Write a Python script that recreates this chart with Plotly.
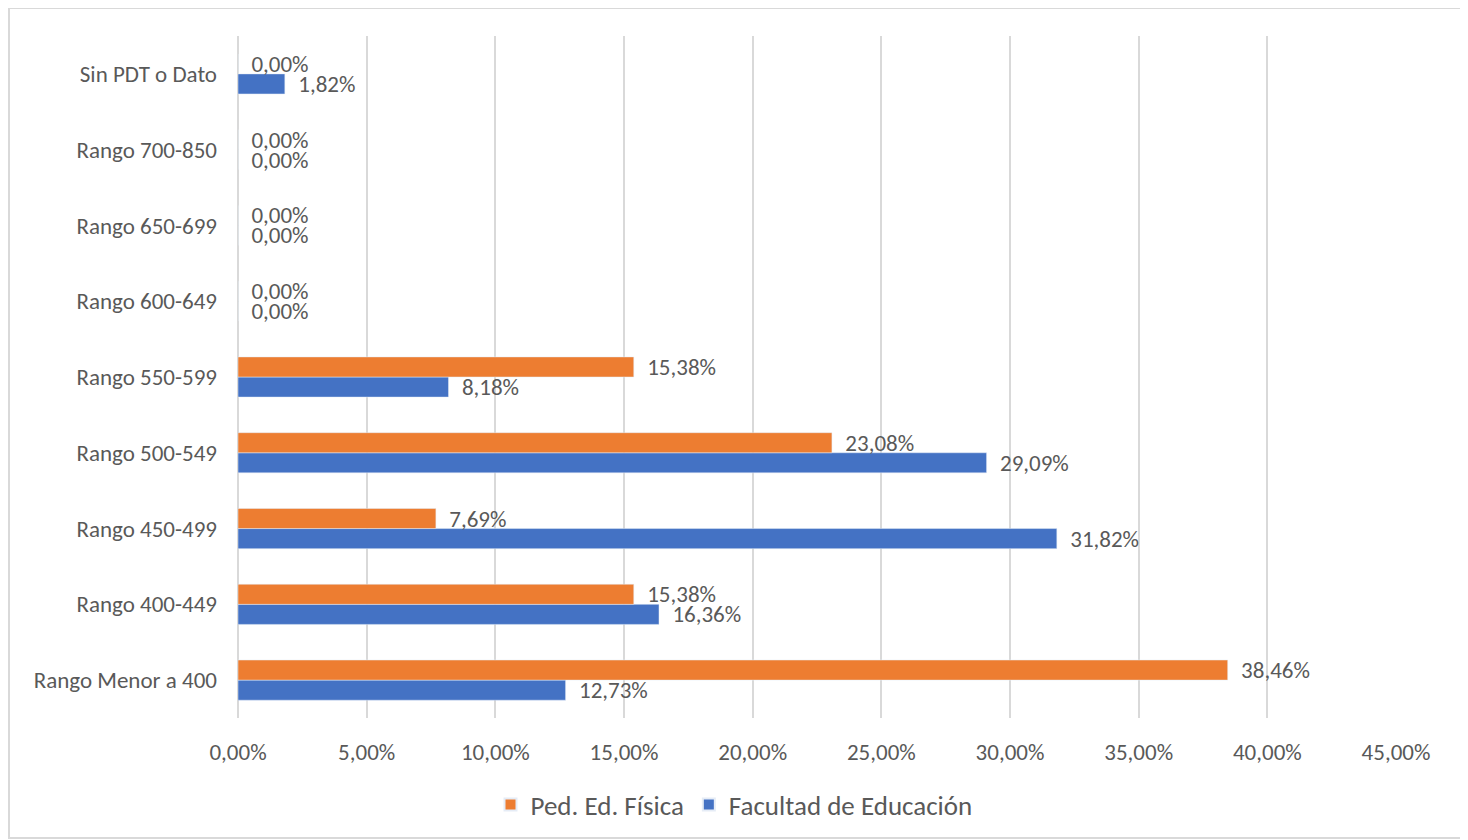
import plotly.graph_objects as go

categories = [
    "Rango Menor a 400",
    "Rango 400-449",
    "Rango 450-499",
    "Rango 500-549",
    "Rango 550-599",
    "Rango 600-649",
    "Rango 650-699",
    "Rango 700-850",
    "Sin PDT o Dato",
]
ped_ed_fisica = [0.3846, 0.1538, 0.0769, 0.2308, 0.1538, 0.0, 0.0, 0.0, 0.0]
facultad_educacion = [0.1273, 0.1636, 0.3182, 0.2909, 0.0818, 0.0, 0.0, 0.0, 0.0182]

FONT = "Calibri, Carlito, Lato, 'Open Sans', sans-serif"
TEXT_COLOR = "#595959"
GRID = "#d9d9d9"

W, H = 1460, 832
L, R, T, B = 230, 72, 28, 122
PW, PH = W - L - R, H - T - B

fig = go.Figure()
fig.add_trace(go.Bar(
    name="Facultad de Educación",
    y=categories,
    x=facultad_educacion,
    orientation="h",
    marker=dict(color="#4472C4"),
    texttemplate="\u00a0\u00a0%{x:.2%}",
    textposition="outside",
    constraintext="none",
    cliponaxis=False,
    textfont=dict(family=FONT, size=23, color=TEXT_COLOR),
    legendrank=2,
))
fig.add_trace(go.Bar(
    name="Ped. Ed. Física",
    y=categories,
    x=ped_ed_fisica,
    orientation="h",
    marker=dict(color="#ED7D31"),
    texttemplate="\u00a0\u00a0%{x:.2%}",
    textposition="outside",
    constraintext="none",
    cliponaxis=False,
    textfont=dict(family=FONT, size=23, color=TEXT_COLOR),
    legendrank=1,
))

fig.update_layout(
    width=W,
    height=H,
    barmode="group",
    bargap=0.47,
    bargroupgap=0,
    separators=",.",
    paper_bgcolor="white",
    plot_bgcolor="white",
    font=dict(family=FONT, size=23, color=TEXT_COLOR),
    margin=dict(l=L, r=R, t=T, b=B),
    showlegend=True,
    legend=dict(
        orientation="h",
        x=(734 - 8) / W, xanchor="center", xref="container",
        y=1 - (805 - 8) / H, yanchor="middle", yref="container",
        font=dict(family=FONT, size=27, color=TEXT_COLOR),
        itemsizing="constant",
        traceorder="normal",
    ),
    xaxis=dict(
        range=[0, 0.45],
        dtick=0.05,
        tick0=0,
        tickformat=".2%",
        showgrid=True,
        gridcolor=GRID,
        gridwidth=2,
        zeroline=True,
        zerolinecolor=GRID,
        zerolinewidth=2,
        showline=False,
        ticks="",
        ticklabelstandoff=18,
        tickfont=dict(family=FONT, size=23, color=TEXT_COLOR),
        fixedrange=True,
    ),
    yaxis=dict(
        type="category",
        categoryorder="array",
        categoryarray=categories,
        showgrid=False,
        zeroline=False,
        showline=False,
        ticks="",
        ticklabelstandoff=20,
        tickfont=dict(family=FONT, size=23, color=TEXT_COLOR),
        fixedrange=True,
    ),
    shapes=[dict(
        type="rect", xref="paper", yref="paper",
        x0=(1 - L) / PW, x1=(W - 2 - L) / PW,
        y0=(H - B - (H - 2)) / PH, y1=(H - B - 0) / PH,
        line=dict(color=GRID, width=2),
        fillcolor="rgba(0,0,0,0)",
        layer="below",
    )],
)

fig.write_html("out.html")
